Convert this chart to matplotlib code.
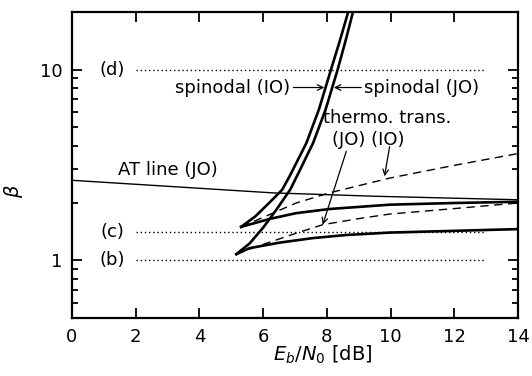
import matplotlib
matplotlib.use("Agg")
import matplotlib.pyplot as plt
from matplotlib.ticker import FixedLocator, FixedFormatter, NullFormatter, LogLocator

plt.rcParams['font.family'] = ['DejaVu Sans']
plt.rcParams['mathtext.fontset'] = 'dejavusans'

# spinodal lines (thick solid)
spin_io_x = [5.31, 5.75, 6.25, 6.60, 6.85, 7.36, 7.75, 8.13, 8.40, 8.67]
spin_io_y = [1.50, 1.70, 2.05, 2.35, 2.80, 4.13, 6.17, 10.0, 14.0, 20.0]
spin_jo_x = [5.16, 5.58, 6.02, 6.45, 6.85, 7.10, 7.57, 7.96, 8.34, 8.58, 8.82]
spin_jo_y = [1.08, 1.23, 1.50, 1.88, 2.35, 2.85, 4.13, 6.17, 10.0, 14.0, 20.0]

# flat solid branches
flat_io_x = [5.31, 6.20, 7.04, 8.08, 9.97, 12.0, 14.0]
flat_io_y = [1.50, 1.65, 1.77, 1.86, 1.96, 2.00, 2.03]
flat_jo_x = [5.16, 5.57, 6.51, 7.56, 8.61, 9.97, 12.0, 14.0]
flat_jo_y = [1.08, 1.16, 1.24, 1.31, 1.36, 1.40, 1.43, 1.46]

# thermodynamic transition (dashed)
thermo_io_x = [5.31, 6.20, 7.04, 8.08, 9.97, 12.0, 14.0]
thermo_io_y = [1.50, 1.74, 2.00, 2.26, 2.70, 3.15, 3.63]
thermo_jo_x = [5.16, 5.78, 7.04, 7.87, 9.13, 9.97, 12.0, 14.0]
thermo_jo_y = [1.08, 1.18, 1.39, 1.54, 1.67, 1.75, 1.87, 2.00]

# AT line (JO)
at_x = [0.0, 6.3, 9.5, 14.0]
at_y = [2.63, 2.26, 2.17, 2.08]

# reference levels (b), (c), (d)
level_names = ['(d)', '(c)', '(b)']
level_vals = [10.0, 1.41, 1.0]

fig = plt.figure(figsize=(5.32, 3.76), dpi=100)
ax = fig.add_axes([0.1353, 0.1543, 0.8384, 0.8137])

lw_thick = 1.9
ax.plot(spin_io_x, spin_io_y, 'k-', lw=lw_thick)
ax.plot(spin_jo_x, spin_jo_y, 'k-', lw=lw_thick)
ax.plot(flat_io_x, flat_io_y, 'k-', lw=lw_thick)
ax.plot(flat_jo_x, flat_jo_y, 'k-', lw=lw_thick)
ax.plot(thermo_io_x, thermo_io_y, 'k--', lw=1.0, dashes=(6, 4))
ax.plot(thermo_jo_x, thermo_jo_y, 'k--', lw=1.0, dashes=(6, 4))
ax.plot(at_x, at_y, 'k-', lw=1.0)

for name, v in zip(level_names, level_vals):
    ax.plot([2, 13], [v, v], color='k', lw=1.0, linestyle=(0, (1, 2)))
    ax.text(1.27, v, name, ha='center', va='center', fontsize=13)

fs = 13
ax.text(3.0, 2.99, 'AT line (JO)', ha='center', va='center', fontsize=fs)
ax.text(6.85, 8.05, 'spinodal (IO)', ha='right', va='center', fontsize=fs)
ax.text(9.18, 8.05, 'spinodal (JO)', ha='left', va='center', fontsize=fs)
ax.text(9.89, 5.6, 'thermo. trans.', ha='center', va='center', fontsize=fs)
ax.text(9.31, 4.3, '(JO) (IO)', ha='center', va='center', fontsize=fs)

arrow = dict(arrowstyle='->', color='k', lw=0.9, shrinkA=0, shrinkB=0)
ax.annotate('', xy=(7.92, 8.05), xytext=(6.95, 8.05), arrowprops=arrow)
ax.annotate('', xy=(8.22, 8.05), xytext=(9.08, 8.05), arrowprops=arrow)
ax.annotate('', xy=(7.87, 1.54), xytext=(8.61, 3.73), arrowprops=arrow)
ax.annotate('', xy=(9.81, 2.76), xytext=(9.97, 3.95), arrowprops=arrow)

ax.set_yscale('log')
ax.set_xlim(0, 14)
ax.set_ylim(0.5, 20)
ax.set_xticks([0, 2, 4, 6, 8, 10, 12, 14])
ax.yaxis.set_major_locator(FixedLocator([1, 10]))
ax.yaxis.set_major_formatter(FixedFormatter(['1', '10']))
ax.yaxis.set_minor_locator(LogLocator(base=10, subs=range(2, 10)))
ax.yaxis.set_minor_formatter(NullFormatter())

ax.tick_params(which='both', direction='in', top=True, right=True, width=1.3,
               labelsize=13)
ax.tick_params(which='major', length=7, pad=7)
ax.tick_params(which='minor', length=4)
for s in ax.spines.values():
    s.set_linewidth(1.6)

ax.set_xlabel('$E_b/N_0$ [dB]', fontsize=14)
ax.xaxis.set_label_coords(0.563, -0.085)
ax.set_ylabel(r'$\beta$', fontsize=14)
ax.yaxis.set_label_coords(-0.105, 0.415)

fig.savefig('out.png', dpi=100)
